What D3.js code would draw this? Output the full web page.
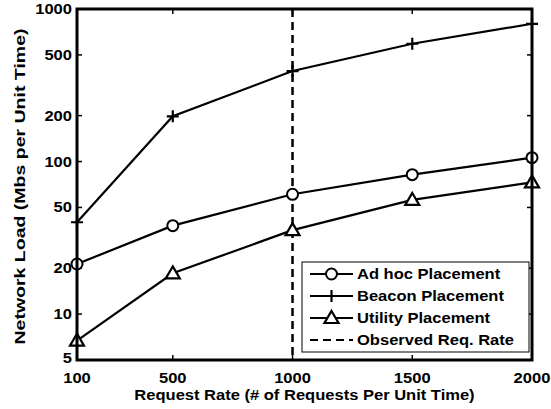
<!DOCTYPE html>
<html>
<head>
<meta charset="utf-8">
<script src="https://cdn.jsdelivr.net/npm/d3@7"></script>
<style>
  body { margin: 0; background: #fff; }
  text { font-family: "Liberation Sans", Arial, sans-serif; font-weight: bold; font-size: 14px; fill: #000; }
</style>
</head>
<body>
<script>
const width = 551;
const height = 409;
const margin = ({top: 9, right: 19, bottom: 49, left: 77});

// request rates and network load per series
const requestRates = [100, 500, 1000, 1500, 2000];
const adhocLoad = [21.3, 38, 61, 82, 106];
const beaconLoad = [40, 198, 392, 592, 800];
const utilityLoad = [6.7, 18.5, 35.5, 56, 73];
const observedRate = 1000;

const xTicks = [100, 500, 1000, 1500, 2000];
const yTicks = [5, 10, 20, 50, 100, 200, 500, 1000];

const seriesNames = ["Ad hoc Placement", "Beacon Placement", "Utility Placement"];
const seriesMarkers = ["circle", "plus", "triangle"];
const observedName = "Observed Req. Rate";

const series = [adhocLoad, beaconLoad, utilityLoad].map((vals, i) => ({
    name: seriesNames[i],
    marker: seriesMarkers[i],
    values: vals.map((v, j) => ({x: requestRates[j], y: v}))
}));

const svg = d3.select("body")
    .append("svg")
    .attr("width", width)
    .attr("height", height);

const x = d3.scaleLinear()
    .domain([100, 2000])
    .range([margin.left, width - margin.right]);

const y = d3.scaleLog()
    .domain([5, 1000])
    .range([height - margin.bottom, margin.top]);

const x0 = x.range()[0], x1 = x.range()[1];
const y0 = y.range()[0], y1 = y.range()[1];
const tickLen = 5;

// ticks on all four sides, pointing in
const ticks = svg.append("g").attr("stroke", "#000").attr("stroke-width", 1.5);
ticks.selectAll(".xb").data(xTicks).join("line")
    .attr("x1", d => x(d)).attr("x2", d => x(d))
    .attr("y1", y0).attr("y2", y0 - tickLen);
ticks.selectAll(".xt").data(xTicks).join("line")
    .attr("x1", d => x(d)).attr("x2", d => x(d))
    .attr("y1", y1).attr("y2", y1 + tickLen);
ticks.selectAll(".yl").data(yTicks).join("line")
    .attr("y1", d => y(d)).attr("y2", d => y(d))
    .attr("x1", x0).attr("x2", x0 + tickLen);
ticks.selectAll(".yr").data(yTicks).join("line")
    .attr("y1", d => y(d)).attr("y2", d => y(d))
    .attr("x1", x1).attr("x2", x1 - tickLen);

// tick labels
svg.append("g").selectAll("text").data(xTicks).join("text")
    .attr("x", d => x(d))
    .attr("y", 383)
    .attr("text-anchor", "middle")
    .text(d => d);

svg.append("g").selectAll("text").data(yTicks).join("text")
    .attr("x", x0 - 5)
    .attr("y", d => y(d) === y0 ? y(d) - 2 : y(d))
    .attr("dy", "0.36em")
    .attr("text-anchor", "end")
    .text(d => d);

// axis titles
svg.append("text")
    .attr("x", (x0 + x1) / 2)
    .attr("y", 400)
    .attr("text-anchor", "middle")
    .text("Request Rate (# of Requests Per Unit Time)");

const yTitle = svg.append("text")
    .attr("class", "ytitle")
    .attr("transform", `translate(25,${(y0 + y1) / 2 + 2}) rotate(-90)`)
    .attr("text-anchor", "middle")
    .text("Network Load (Mbs per Unit Time)");

// observed request rate
svg.append("line")
    .attr("x1", x(observedRate)).attr("x2", x(observedRate))
    .attr("y1", y1).attr("y2", y0)
    .attr("stroke", "#000")
    .attr("stroke-width", 2.5)
    .attr("stroke-dasharray", "8,5");

const line = d3.line()
    .x(d => x(d.x))
    .y(d => y(d.y));

function drawMarker(g, type, cx, cy) {
    if (type === "circle") {
        g.append("circle").attr("cx", cx).attr("cy", cy).attr("r", 5.5)
            .attr("fill", "#fff").attr("stroke", "#000").attr("stroke-width", 2);
    } else if (type === "plus") {
        g.append("path").attr("d", `M${cx - 6},${cy}H${cx + 6}M${cx},${cy - 6}V${cy + 6}`)
            .attr("stroke", "#000").attr("stroke-width", 2.2);
    } else {
        g.append("path").attr("d", `M${cx},${cy - 7}L${cx + 7},${cy + 5}L${cx - 7},${cy + 5}Z`)
            .attr("fill", "#fff").attr("stroke", "#000").attr("stroke-width", 2.2)
            .attr("stroke-linejoin", "miter");
    }
}

series.forEach(s => {
    svg.append("path")
        .datum(s.values)
        .attr("fill", "none")
        .attr("stroke", "#000")
        .attr("stroke-width", 2.2)
        .attr("d", line);
    const g = svg.append("g");
    s.values.forEach(d => drawMarker(g, s.marker, x(d.x), y(d.y)));
});

// axes box
svg.append("rect")
    .attr("x", x0).attr("y", y1)
    .attr("width", x1 - x0).attr("height", y0 - y1)
    .attr("fill", "none")
    .attr("stroke", "#000")
    .attr("stroke-width", 3);

// legend
const lg = svg.append("g").attr("transform", "translate(302,262)");
lg.append("rect")
    .attr("width", 227).attr("height", 90)
    .attr("fill", "#fff").attr("stroke", "#000").attr("stroke-width", 1);

const legendItems = series.map(s => ({name: s.name, marker: s.marker, dash: null}))
    .concat([{name: observedName, marker: null, dash: "8,5"}]);

legendItems.forEach((d, i) => {
    const ry = 12 + i * 22;
    const row = lg.append("g");
    row.append("line")
        .attr("x1", 8).attr("x2", 51)
        .attr("y1", ry).attr("y2", ry)
        .attr("stroke", "#000").attr("stroke-width", 2.2)
        .attr("stroke-dasharray", d.dash);
    if (d.marker) drawMarker(row, d.marker, 29.5, ry);
    row.append("text")
        .attr("x", 55)
        .attr("y", ry)
        .attr("dy", "0.36em")
        .text(d.name);
});

// text in the source figure is rendered wider than the font's natural width
svg.selectAll("text").each(function() {
    const w = this.getComputedTextLength();
    d3.select(this)
        .attr("textLength", w * 1.18)
        .attr("lengthAdjust", "spacingAndGlyphs");
});
yTitle.attr("textLength", 316);
</script>
</body>
</html>
